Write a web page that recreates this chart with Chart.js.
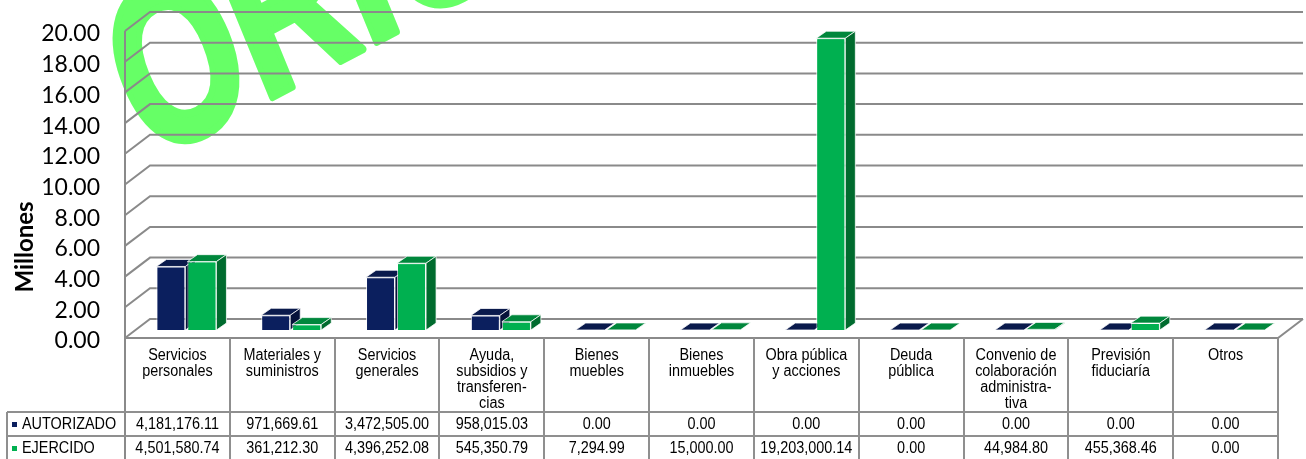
<!DOCTYPE html>
<html><head><meta charset="utf-8">
<script src="https://cdn.jsdelivr.net/npm/chart.js@4.4.1/dist/chart.umd.min.js"></script>
<style>html,body{margin:0;padding:0;background:#fff;overflow:hidden}</style>
</head><body>
<canvas id="c" width="1306" height="459"></canvas>
<script>
// ---------- DATA ----------
const categories = [
  ["Servicios","personales"],
  ["Materiales y","suministros"],
  ["Servicios","generales"],
  ["Ayuda,","subsidios y","transferen-","cias"],
  ["Bienes","muebles"],
  ["Bienes","inmuebles"],
  ["Obra pública","y acciones"],
  ["Deuda","pública"],
  ["Convenio de","colaboración","administra-","tiva"],
  ["Previsión","fiduciaría"],
  ["Otros"]
];
const seriesNames = ["AUTORIZADO", "EJERCIDO"];
const autorizado = [4181176.11, 971669.61, 3472505.00, 958015.03, 0.00, 0.00, 0.00, 0.00, 0.00, 0.00, 0.00];
const ejercido   = [4501580.74, 361212.30, 4396252.08, 545350.79, 7294.99, 15000.00, 19203000.14, 0.00, 44984.80, 455368.46, 0.00];
const yTicks = [0, 2, 4, 6, 8, 10, 12, 14, 16, 18, 20];
const axisTitle = "Millones";
const watermarkText = "ORIGINAL";

// ---------- STYLE ----------
const COLORS = {
  front: ["#0B1F5E", "#00B050"],
  top:   ["#0A1A4C", "#00873C"],
  side:  ["#06123A", "#006B2E"]
};
const DX = 9, DY = -8;     // bar plane offset from front plane
const KY = 0.99;           // bar plane vertical scale
const BD = 10, BE = 7;     // bar depth
const WX = 25, WY = 19;    // wall depth
const HS = 0.9;            // horizontal text squeeze
const GRID = "#8a8a8a";
const TABLE_LINE = "#8f8f8f";
const EDGE = "rgba(255,255,255,0.75)";

const fmt = v => v.toLocaleString("en-US", {minimumFractionDigits: 2, maximumFractionDigits: 2});
const toM = arr => arr.map(v => v / 1e6);

function squeezedText(ctx, t, x, y) {
  ctx.save();
  ctx.translate(x, y);
  ctx.scale(HS, 1);
  ctx.fillText(t, 0, 0);
  ctx.restore();
}

function drawFaces(ctx, el, di) {
  const p = el.getProps(["x", "y", "base", "width"], true);
  const x0 = p.x - p.width / 2, x1 = p.x + p.width / 2;
  const yt = Math.min(p.y, p.base), yb = p.base;
  ctx.lineWidth = 1;
  ctx.strokeStyle = EDGE;
  ctx.beginPath();
  ctx.moveTo(x0, yt);
  ctx.lineTo(x1, yt);
  ctx.lineTo(x1 + BD, yt - BE);
  ctx.lineTo(x0 + BD, yt - BE);
  ctx.closePath();
  ctx.fillStyle = COLORS.top[di];
  ctx.fill();
  ctx.stroke();
  if (yb - yt > 0.5) {
    ctx.beginPath();
    ctx.moveTo(x1, yt);
    ctx.lineTo(x1 + BD, yt - BE);
    ctx.lineTo(x1 + BD, yb - BE);
    ctx.lineTo(x1, yb);
    ctx.closePath();
    ctx.fillStyle = COLORS.side[di];
    ctx.fill();
    ctx.stroke();
  }
}

const excel3d = {
  id: "excel3d",
  beforeDraw(chart) {
    const ctx = chart.ctx;
    ctx.save();
    ctx.fillStyle = "#fff";
    ctx.fillRect(0, 0, chart.width, chart.height);
    // watermark
    ctx.translate(150, 162);
    ctx.scale(0.88, 1);
    ctx.rotate(-25 * Math.PI / 180);
    ctx.scale(0.78, 1);
    ctx.fillStyle = "#66FF66";
    ctx.strokeStyle = "#66FF66";
    ctx.lineWidth = 8;
    ctx.lineJoin = "round";
    ctx.font = "bold 232px 'Liberation Sans', Arial, sans-serif";
    ctx.textBaseline = "alphabetic";
    ctx.textAlign = "left";
    ctx.fillText(watermarkText, 0, 0);
    ctx.strokeText(watermarkText, 0, 0);
    ctx.restore();
  },
  beforeDatasetsDraw(chart) {
    const ctx = chart.ctx, a = chart.chartArea, y = chart.scales.y;
    ctx.save();
    ctx.strokeStyle = GRID;
    ctx.lineWidth = 2;
    yTicks.forEach(t => {
      const py = y.getPixelForValue(t);
      ctx.beginPath();
      ctx.moveTo(a.left, py);
      ctx.lineTo(a.left + WX, py - WY);
      ctx.lineTo(a.right + WX, py - WY);
      ctx.stroke();
    });
    ctx.beginPath();
    ctx.moveTo(a.right + WX, a.bottom - WY);
    ctx.lineTo(a.right, a.bottom);
    ctx.lineTo(a.left, a.bottom);
    ctx.stroke();
    ctx.beginPath();
    ctx.moveTo(a.left, y.getPixelForValue(yTicks[yTicks.length - 1]));
    ctx.lineTo(a.left, chart.height);
    ctx.stroke();
    ctx.restore();
    ctx.save();
    const base = y.getPixelForValue(0);
    ctx.translate(DX, DY + base * (1 - KY));
    ctx.scale(1, KY);
  },
  afterDatasetsDraw(chart) {
    const ctx = chart.ctx;
    chart.data.datasets.forEach((ds, di) => {
      const meta = chart.getDatasetMeta(di);
      meta.data.forEach(el => {
        if (di > 0) el.draw(ctx, chart.chartArea);
        drawFaces(ctx, el, di);
      });
    });
    ctx.restore();
  },
  afterDraw(chart) {
    const ctx = chart.ctx, a = chart.chartArea;
    const n = categories.length;
    const cw = (a.right - a.left) / n;
    const top = a.bottom, r1 = 412, r2 = 436, bottom = chart.height;
    const leftX = 7;
    ctx.save();
    // axis title
    ctx.save();
    ctx.translate(33, 247);
    ctx.rotate(-Math.PI / 2);
    ctx.fillStyle = "#000";
    ctx.font = "bold 24px Lato, 'Liberation Sans', sans-serif";
    ctx.textAlign = "center";
    ctx.textBaseline = "alphabetic";
    ctx.fillText(axisTitle, 0, 0);
    ctx.restore();
    // table lines
    ctx.strokeStyle = TABLE_LINE;
    ctx.lineWidth = 2;
    ctx.beginPath();
    for (let k = 1; k <= n; k++) {
      const x = Math.round(a.left + k * cw);
      ctx.moveTo(x, top); ctx.lineTo(x, bottom);
    }
    ctx.moveTo(leftX, r1); ctx.lineTo(a.right, r1);
    ctx.moveTo(leftX, r2); ctx.lineTo(a.right, r2);
    ctx.moveTo(leftX, r1); ctx.lineTo(leftX, bottom);
    ctx.stroke();
    // texts
    ctx.fillStyle = "#000";
    ctx.font = "16px 'Liberation Sans', Arial, sans-serif";
    ctx.textAlign = "center";
    ctx.textBaseline = "middle";
    categories.forEach((lines, i) => {
      const cx = a.left + (i + 0.5) * cw;
      lines.forEach((t, j) => squeezedText(ctx, t, cx, 356 + j * 16));
      squeezedText(ctx, fmt(autorizado[i]), cx, 425);
      squeezedText(ctx, fmt(ejercido[i]), cx, 449);
    });
    ctx.textAlign = "left";
    const rowsY = [425, 449];
    seriesNames.forEach((s, k) => {
      ctx.fillStyle = COLORS.front[k];
      ctx.fillRect(12, rowsY[k] - 3, 5, 5);
      ctx.fillStyle = "#000";
      squeezedText(ctx, s, 22, rowsY[k]);
    });
    ctx.restore();
  }
};

new Chart(document.getElementById("c"), {
  type: "bar",
  data: {
    labels: categories,
    datasets: [
      { label: seriesNames[0], data: toM(autorizado), backgroundColor: COLORS.front[0],
        borderColor: EDGE, borderWidth: 1, clip: false },
      { label: seriesNames[1], data: toM(ejercido), backgroundColor: COLORS.front[1],
        borderColor: EDGE, borderWidth: 1, clip: false }
    ]
  },
  options: {
    responsive: false,
    animation: false,
    devicePixelRatio: 1,
    layout: { padding: { left: 0, top: 31, right: 28, bottom: 121 } },
    datasets: { bar: { categoryPercentage: 0.592, barPercentage: 0.935 } },
    plugins: { legend: { display: false }, tooltip: { enabled: false }, title: { display: false } },
    scales: {
      x: { display: false, offset: true },
      y: {
        min: yTicks[0], max: yTicks[yTicks.length - 1],
        afterBuildTicks(scale) { scale.ticks = yTicks.map(v => ({ value: v })); },
        afterFit(scale) { scale.width = 125; scale.paddingTop = 0; scale.paddingBottom = 0; },
        grid: { display: false, drawTicks: false },
        border: { display: false },
        ticks: {
          padding: 25,
          labelOffset: 3,
          color: "#000",
          font: { family: "Lato, 'Liberation Sans', sans-serif", size: 23 },
          callback: v => Number(v).toFixed(2)
        }
      }
    }
  },
  plugins: [excel3d]
});
</script>
</body></html>
